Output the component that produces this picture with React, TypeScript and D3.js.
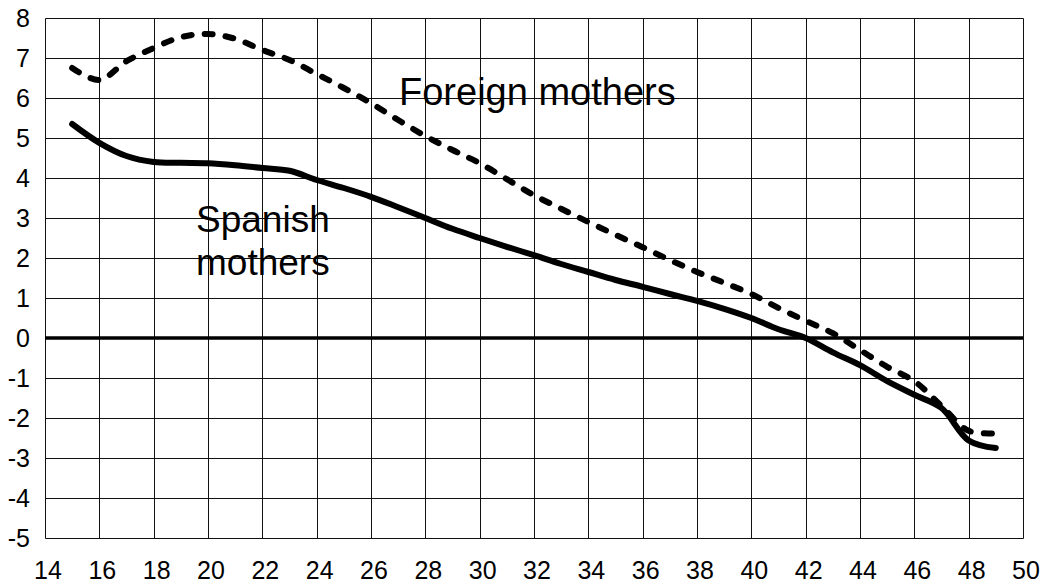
import React from 'react';
import * as d3 from 'd3';

// edades (eje x)
const ages = [15, 16, 17, 18, 19, 20, 21, 22, 23, 24, 25, 26, 27, 28, 29, 30, 31, 32,
    33, 34, 35, 36, 37, 38, 39, 40, 41, 42, 43, 44, 45, 46, 47, 48, 49];

const spanishMothers = [5.35, 4.88, 4.55, 4.4, 4.38, 4.37, 4.32, 4.25, 4.18, 3.95, 3.75,
    3.53, 3.27, 3.0, 2.73, 2.5, 2.28, 2.07, 1.85, 1.65, 1.45, 1.28, 1.1, 0.93, 0.73, 0.5,
    0.22, 0.0, -0.36, -0.68, -1.08, -1.42, -1.75, -2.56, -2.75];

const foreignMothers = [6.75, 6.45, 6.92, 7.25, 7.52, 7.6, 7.48, 7.2, 6.95, 6.6, 6.25,
    5.87, 5.45, 5.05, 4.7, 4.37, 3.97, 3.57, 3.23, 2.9, 2.58, 2.27, 1.95, 1.65, 1.38, 1.1,
    0.75, 0.43, 0.12, -0.3, -0.72, -1.08, -1.7, -2.32, -2.38];

const xTicks = [14, 16, 18, 20, 22, 24, 26, 28, 30, 32, 34, 36, 38, 40, 42, 44, 46, 48, 50];
const yTicks = [-5, -4, -3, -2, -1, 0, 1, 2, 3, 4, 5, 6, 7, 8];

const font = '"Liberation Sans", Arial, Helvetica, sans-serif';

const App = () => {
    const width = 1050;
    const height = 587;
    const margin = { top: 18, right: 27, bottom: 49, left: 45 };

    const x = d3.scaleLinear().domain([14, 50]).range([margin.left, width - margin.right]);
    const y = d3.scaleLinear().domain([-5, 8]).range([height - margin.bottom, margin.top]);

    const line = d3.line<number>()
        .x((_, i) => x(ages[i]))
        .y(d => y(d))
        .curve(d3.curveCatmullRom.alpha(0.5));

    const px = (v: number) => Math.round(v) + 0.5;

    return (
        <svg width={width} height={height}
            style={{ position: 'absolute', top: 0, left: 0, background: '#fff' }}
            fontFamily={font}>
            {/* rejilla */}
            {xTicks.map(t => (
                <line key={'vx' + t} x1={px(x(t))} x2={px(x(t))} y1={px(y(8))} y2={px(y(-5))}
                    stroke="#111" strokeWidth={1} />
            ))}
            {yTicks.map(t => (
                <line key={'hy' + t} x1={px(x(14))} x2={px(x(50))} y1={px(y(t))} y2={px(y(t))}
                    stroke="#111" strokeWidth={1} />
            ))}
            <line x1={x(14)} x2={x(50)} y1={y(0)} y2={y(0)} stroke="#000" strokeWidth={3.5} />

            {/* etiquetas de ejes */}
            {yTicks.map(t => (
                <text key={'ly' + t} x={30} y={y(t)} dy="0.36em" textAnchor="end"
                    fontSize={25} fill="#000">{t}</text>
            ))}
            {xTicks.map(t => (
                <text key={'lx' + t} x={x(t) + 3} y={579} textAnchor="middle"
                    fontSize={25} fill="#000">{t}</text>
            ))}

            {/* series */}
            <path d={line(foreignMothers) || ''} fill="none" stroke="#000" strokeWidth={6}
                strokeDasharray="8 13" strokeLinecap="round" />
            <path d={line(spanishMothers) || ''} fill="none" stroke="#000" strokeWidth={6}
                strokeLinecap="round" />

            <text x={399} y={105} fontSize={38} fill="#000">Foreign mothers</text>
            <text x={196} y={232} fontSize={37} fill="#000">Spanish</text>
            <text x={196} y={275} fontSize={37} fill="#000">mothers</text>
        </svg>
    );
};

export default App;
